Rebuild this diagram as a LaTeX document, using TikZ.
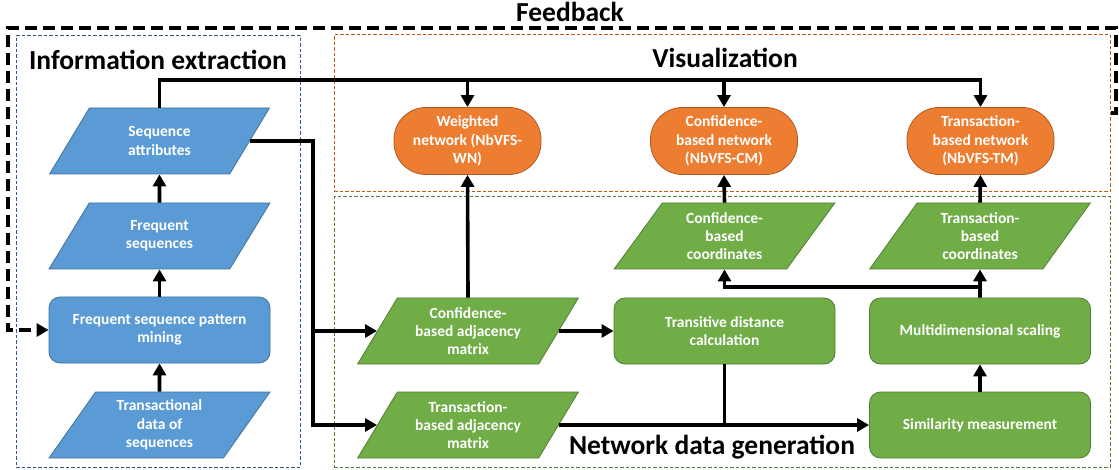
\documentclass[tikz,border=0pt]{standalone}
\usepackage{fontspec}
\setmainfont{Carlito}
\usetikzlibrary{arrows.meta,shapes.geometric}
\definecolor{bluefill}{HTML}{5B9BD5}
\definecolor{bluedraw}{HTML}{41719C}
\definecolor{orangefill}{HTML}{ED7D31}
\definecolor{orangedraw}{HTML}{AE5A21}
\definecolor{greenfill}{HTML}{70AD47}
\definecolor{greendraw}{HTML}{507E32}
\definecolor{infoframe}{HTML}{2F5597}
\definecolor{visframe}{HTML}{C55A11}
\definecolor{netframe}{HTML}{548235}
\tikzset{
  x=1pt, y=-1pt,
  txt/.style={text=white, font=\fontsize{15.5}{18.3}\selectfont\bfseries, align=center, inner sep=0pt},
  procbox/.style={txt, rectangle, rounded corners=11pt, line width=0.8pt, minimum width=221pt, minimum height=66pt},
  databox/.style={txt, trapezium, trapezium left angle=58, trapezium right angle=122, trapezium stretches=true,
                  line width=0.8pt, minimum width=221pt, minimum height=66pt},
  outbox/.style={txt, rectangle, rounded corners=32pt, line width=0.8pt, minimum width=147pt, minimum height=67pt,
                 fill=orangefill, draw=orangedraw},
  blue/.style={fill=bluefill, draw=bluedraw},
  green/.style={fill=greenfill, draw=greendraw},
  frame/.style={draw, dash pattern=on 3.5pt off 2pt, line width=1pt, inner sep=0pt},
  heading/.style={font=\fontsize{27.5}{32}\selectfont\bfseries, inner sep=0pt},
  conn/.style={line width=3.6pt, -{Triangle[length=12pt,width=13pt]}},
  link/.style={line width=3.6pt},
  feedback/.style={line width=4pt, dash pattern=on 12pt off 6pt, -{Triangle[length=12pt,width=13pt]}},
}
\begin{document}
\begin{tikzpicture}
\useasboundingbox (0,0) rectangle (1119,470);

% group frames
\node[frame, draw=infoframe, minimum width=284pt, minimum height=431pt] (info) at (158,251.5) {};
\node[frame, draw=visframe, minimum width=776pt, minimum height=157pt] (vis) at (722,113.5) {};
\node[frame, draw=netframe, minimum width=776pt, minimum height=270pt] (net) at (722,332) {};

\node[heading] (infotitle) at (158,60) {Information extraction};
\node[heading] (vistitle) at (725,58) {Visualization};
\node[heading] (nettitle) at (712,447) {Network data generation};
\node[heading] (fbtitle) at (570,12) {Feedback};

% information extraction
\node[databox, blue] (seqattr) at (159.5,141) {Sequence\\attributes};
\node[databox, blue] (freq) at (159.5,236) {Frequent\\sequences};
\node[procbox, blue] (mining) at (159.5,330) {Frequent sequence pattern\\mining};
\node[databox, blue] (trans) at (159.5,425) {Transactional\\data of\\sequences};

% visualization outputs
\node[outbox] (wnet) at (467.5,141) {Weighted\\network (NbVFS-\\WN)};
\node[outbox] (cnet) at (724,141) {Confidence-\\based network\\(NbVFS-CM)};
\node[outbox] (tnet) at (980.5,141) {Transaction-\\based network\\(NbVFS-TM)};

% network data generation
\node[databox, green] (ccoord) at (724.5,236) {Confidence-\\based\\coordinates};
\node[databox, green] (tcoord) at (980,236) {Transaction-\\based\\coordinates};
\node[databox, green] (cadj) at (468,331) {Confidence-\\based adjacency\\matrix};
\node[databox, green] (tadj) at (468,425) {Transaction-\\based adjacency\\matrix};
\node[procbox, green] (tdc) at (724.5,331) {Transitive distance\\calculation};
\node[procbox, green] (mds) at (980,331) {Multidimensional scaling};
\node[procbox, green] (sim) at (980,425) {Similarity measurement};

% junction points
\coordinate (topbus) at (0,80);
\coordinate (sidebus) at (313,0);
\coordinate (coordbus) at (0,287);
\coordinate (fbright) at (1116,0);
\coordinate (fbtop) at (0,28);
\coordinate (fbleft) at (8,0);

% extraction chain
\draw[conn] (trans) -- (mining);
\draw[conn] (mining) -- (freq);
\draw[conn] (freq) -- (seqattr);

% sequence attributes to the networks
\draw[conn] (seqattr.north) -- (seqattr.north |- topbus) -| (tnet.north);
\draw[conn] (wnet.north |- topbus) -- (wnet.north);
\draw[conn] (cnet.north |- topbus) -- (cnet.north);

% sequence attributes to the adjacency matrices
\draw[conn] (seqattr.east) -| (sidebus |- tadj.west) -- (tadj.west);
\draw[conn] (sidebus |- cadj.west) -- (cadj.west);

% network data generation flow
\draw[conn] (cadj.north) -- (wnet.south);
\draw[conn] (cadj.east) -- (tdc.west);
\draw[conn] (tadj.east) -- (sim.west);
\draw[link] (tdc.south) -- (tdc.south |- tadj.east);
\draw[conn] (sim) -- (mds);
\draw[conn] (mds.north) -- (tcoord.south);
\draw[conn] (mds.north |- coordbus) -| (ccoord.south);
\draw[conn] (ccoord.north) -- (cnet.south);
\draw[conn] (tcoord.north) -- (tnet.south);

% feedback loop
\draw[feedback] (vis.east) -- (fbright |- vis.east) -- (fbright |- fbtop) -- (fbleft |- fbtop)
  -- (fbleft |- mining.west) -- (mining.west);
\end{tikzpicture}
\end{document}
